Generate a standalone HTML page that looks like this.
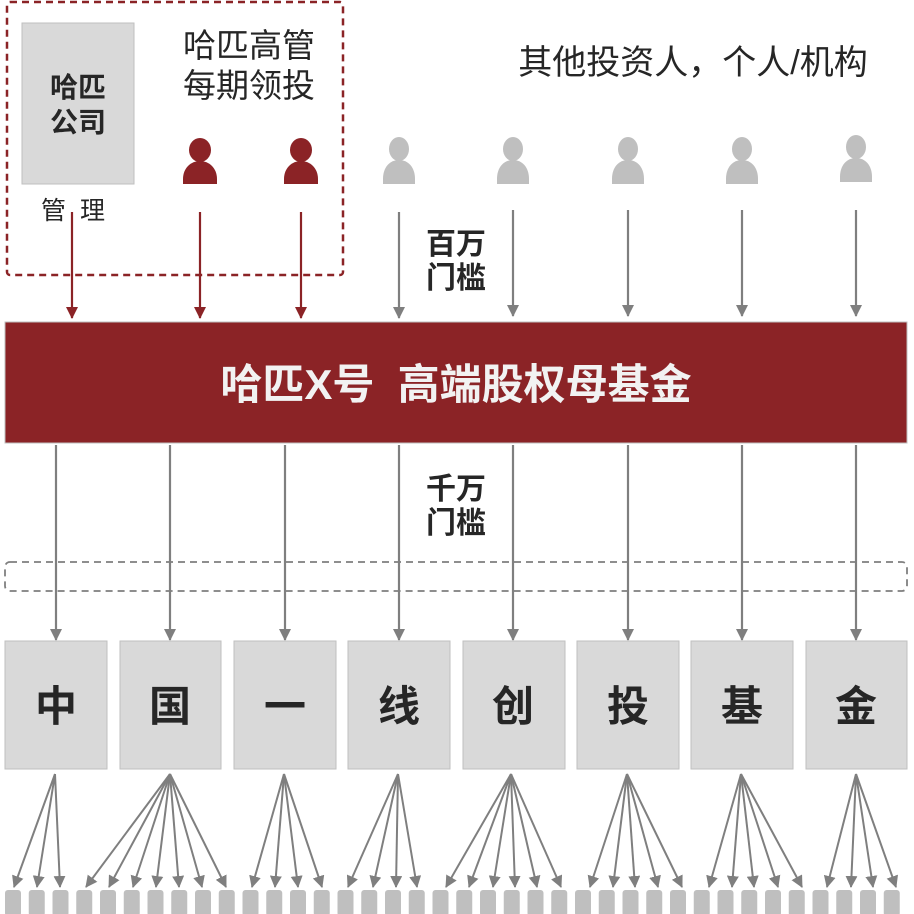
<!DOCTYPE html>
<html><head><meta charset="utf-8"><style>
html,body{margin:0;padding:0;background:#fff}
svg{display:block}
text{font-family:"Liberation Sans","Noto Sans CJK SC",sans-serif}
</style></head><body>
<svg width="914" height="914" viewBox="0 0 914 914" xmlns="http://www.w3.org/2000/svg">
<defs>
<marker id="ag" viewBox="0 0 12 12" refX="11" refY="6" markerWidth="12" markerHeight="12" orient="auto" markerUnits="userSpaceOnUse"><path d="M0,0 L12,6 L0,12 z" fill="#7f7f7f"/></marker>
<marker id="ar" viewBox="0 0 12 12" refX="11" refY="6" markerWidth="12" markerHeight="12" orient="auto" markerUnits="userSpaceOnUse"><path d="M0,0 L12,6 L0,12 z" fill="#8b2326"/></marker>
<g id="pg"><ellipse cx="0" cy="0" rx="10" ry="12" fill="#bfbfbf"/><path d="M-16,35 L-16,30 C-16,18 -9,11 0,11 C9,11 16,18 16,30 L16,35 z" fill="#bfbfbf"/></g>
<g id="pr"><ellipse cx="0" cy="0" rx="11" ry="12" fill="#8b2326"/><path d="M-17,34 L-17,29 C-17,18 -9,11 0,11 C9,11 17,18 17,29 L17,34 z" fill="#8b2326"/></g>
</defs>

<rect x="7" y="2" width="336" height="273" rx="3" fill="none" stroke="#8b2326" stroke-width="2.5" stroke-dasharray="7,5"/>
<rect x="22" y="23" width="112" height="161" fill="#d9d9d9" stroke="#bfbfbf" stroke-width="1"/>
<text x="78" y="97" font-size="28" font-weight="bold" fill="#262626" text-anchor="middle">哈匹</text>
<text x="78" y="132" font-size="28" font-weight="bold" fill="#262626" text-anchor="middle">公司</text>
<text x="41" y="219" font-size="25" fill="#262626">管</text>
<text x="80" y="219" font-size="25" fill="#262626">理</text>
<text x="249" y="57" font-size="33" fill="#262626" text-anchor="middle">哈匹高管</text>
<text x="249" y="97" font-size="33" fill="#262626" text-anchor="middle">每期领投</text>
<text x="693" y="74" font-size="34" fill="#262626" text-anchor="middle">其他投资人，个人/机构</text>

<use href="#pr" x="200" y="150"/>
<use href="#pr" x="301" y="150"/>
<use href="#pg" x="399" y="149"/>
<use href="#pg" x="513" y="149"/>
<use href="#pg" x="628" y="149"/>
<use href="#pg" x="742" y="149"/>
<use href="#pg" x="856" y="147"/>

<g stroke="#8b2326" stroke-width="2.2" fill="none">
<line x1="72" y1="212" x2="72" y2="318" marker-end="url(#ar)"/>
<line x1="200" y1="212" x2="200" y2="318" marker-end="url(#ar)"/>
<line x1="301" y1="212" x2="301" y2="318" marker-end="url(#ar)"/>
</g>
<g stroke="#7f7f7f" stroke-width="2.2" fill="none">
<line x1="399" y1="212" x2="399" y2="318" marker-end="url(#ag)"/>
<line x1="513" y1="210" x2="513" y2="316" marker-end="url(#ag)"/>
<line x1="628" y1="210" x2="628" y2="316" marker-end="url(#ag)"/>
<line x1="742" y1="210" x2="742" y2="316" marker-end="url(#ag)"/>
<line x1="856" y1="210" x2="856" y2="316" marker-end="url(#ag)"/>
</g>
<text x="456" y="254" font-size="30" font-weight="bold" fill="#262626" text-anchor="middle">百万</text>
<text x="456" y="288" font-size="30" font-weight="bold" fill="#262626" text-anchor="middle">门槛</text>

<rect x="5" y="322" width="902" height="121" fill="#8b2326" stroke="#bfbfbf" stroke-width="1"/>
<text x="456" y="399" font-size="42" font-weight="bold" fill="#f2f2f2" text-anchor="middle" xml:space="preserve">哈匹X号  高端股权母基金</text>

<rect x="5" y="562" width="902" height="29" rx="5" fill="none" stroke="#7f7f7f" stroke-width="1.8" stroke-dasharray="7,5"/>

<g stroke="#7f7f7f" stroke-width="2.2" fill="none">
<line x1="56" y1="445" x2="56" y2="640" marker-end="url(#ag)"/>
<line x1="170" y1="445" x2="170" y2="640" marker-end="url(#ag)"/>
<line x1="285" y1="445" x2="285" y2="640" marker-end="url(#ag)"/>
<line x1="399" y1="445" x2="399" y2="640" marker-end="url(#ag)"/>
<line x1="513" y1="445" x2="513" y2="640" marker-end="url(#ag)"/>
<line x1="628" y1="445" x2="628" y2="640" marker-end="url(#ag)"/>
<line x1="742" y1="445" x2="742" y2="640" marker-end="url(#ag)"/>
<line x1="856" y1="445" x2="856" y2="640" marker-end="url(#ag)"/>
</g>
<text x="456" y="499" font-size="30" font-weight="bold" fill="#262626" text-anchor="middle">千万</text>
<text x="456" y="533" font-size="30" font-weight="bold" fill="#262626" text-anchor="middle">门槛</text>

<g fill="#d9d9d9" stroke="#bfbfbf" stroke-width="1">
<rect x="5" y="641" width="102" height="128"/>
<rect x="120" y="641" width="101" height="128"/>
<rect x="234" y="641" width="102" height="128"/>
<rect x="348" y="641" width="102" height="128"/>
<rect x="463" y="641" width="102" height="128"/>
<rect x="577" y="641" width="102" height="128"/>
<rect x="691" y="641" width="102" height="128"/>
<rect x="806" y="641" width="101" height="128"/>
</g>
<g font-size="42" font-weight="bold" fill="#262626" text-anchor="middle">
<text x="56" y="721">中</text>
<text x="170" y="721">国</text>
<text x="285" y="721">一</text>
<text x="399" y="721">线</text>
<text x="513" y="721">创</text>
<text x="628" y="721">投</text>
<text x="742" y="721">基</text>
<text x="856" y="721">金</text>
</g>

<g fill="#bfbfbf">
<rect x="5" y="890" width="16" height="26" rx="3"/><rect x="28.75" y="890" width="16" height="26" rx="3"/><rect x="52.5" y="890" width="16" height="26" rx="3"/><rect x="76.25" y="890" width="16" height="26" rx="3"/><rect x="100" y="890" width="16" height="26" rx="3"/><rect x="123.75" y="890" width="16" height="26" rx="3"/><rect x="147.5" y="890" width="16" height="26" rx="3"/><rect x="171.25" y="890" width="16" height="26" rx="3"/><rect x="195" y="890" width="16" height="26" rx="3"/><rect x="218.75" y="890" width="16" height="26" rx="3"/><rect x="242.5" y="890" width="16" height="26" rx="3"/><rect x="266.25" y="890" width="16" height="26" rx="3"/><rect x="290" y="890" width="16" height="26" rx="3"/><rect x="313.75" y="890" width="16" height="26" rx="3"/><rect x="337.5" y="890" width="16" height="26" rx="3"/><rect x="361.25" y="890" width="16" height="26" rx="3"/><rect x="385" y="890" width="16" height="26" rx="3"/><rect x="408.75" y="890" width="16" height="26" rx="3"/><rect x="432.5" y="890" width="16" height="26" rx="3"/><rect x="456.25" y="890" width="16" height="26" rx="3"/><rect x="480" y="890" width="16" height="26" rx="3"/><rect x="503.75" y="890" width="16" height="26" rx="3"/><rect x="527.5" y="890" width="16" height="26" rx="3"/><rect x="551.25" y="890" width="16" height="26" rx="3"/><rect x="575" y="890" width="16" height="26" rx="3"/><rect x="598.75" y="890" width="16" height="26" rx="3"/><rect x="622.5" y="890" width="16" height="26" rx="3"/><rect x="646.25" y="890" width="16" height="26" rx="3"/><rect x="670" y="890" width="16" height="26" rx="3"/><rect x="693.75" y="890" width="16" height="26" rx="3"/><rect x="717.5" y="890" width="16" height="26" rx="3"/><rect x="741.25" y="890" width="16" height="26" rx="3"/><rect x="765" y="890" width="16" height="26" rx="3"/><rect x="788.75" y="890" width="16" height="26" rx="3"/><rect x="812.5" y="890" width="16" height="26" rx="3"/><rect x="836.25" y="890" width="16" height="26" rx="3"/><rect x="860" y="890" width="16" height="26" rx="3"/><rect x="883.75" y="890" width="16" height="26" rx="3"/>
</g>

<g stroke="#7f7f7f" stroke-width="2" fill="none">
<line x1="55" y1="774" x2="14" y2="887" marker-end="url(#ag)"/>
<line x1="55" y1="774" x2="37" y2="887" marker-end="url(#ag)"/>
<line x1="55" y1="774" x2="60" y2="887" marker-end="url(#ag)"/>

<line x1="170" y1="774" x2="86" y2="887" marker-end="url(#ag)"/>
<line x1="170" y1="774" x2="109" y2="887" marker-end="url(#ag)"/>
<line x1="170" y1="774" x2="133" y2="887" marker-end="url(#ag)"/>
<line x1="170" y1="774" x2="156" y2="887" marker-end="url(#ag)"/>
<line x1="170" y1="774" x2="179" y2="887" marker-end="url(#ag)"/>
<line x1="170" y1="774" x2="202" y2="887" marker-end="url(#ag)"/>
<line x1="170" y1="774" x2="226" y2="887" marker-end="url(#ag)"/>

<line x1="284" y1="774" x2="252" y2="887" marker-end="url(#ag)"/>
<line x1="284" y1="774" x2="275" y2="887" marker-end="url(#ag)"/>
<line x1="284" y1="774" x2="298" y2="887" marker-end="url(#ag)"/>
<line x1="284" y1="774" x2="322" y2="887" marker-end="url(#ag)"/>

<line x1="398" y1="774" x2="348" y2="887" marker-end="url(#ag)"/>
<line x1="398" y1="774" x2="373" y2="887" marker-end="url(#ag)"/>
<line x1="398" y1="774" x2="396" y2="887" marker-end="url(#ag)"/>
<line x1="398" y1="774" x2="417" y2="887" marker-end="url(#ag)"/>

<line x1="511" y1="774" x2="446" y2="887" marker-end="url(#ag)"/>
<line x1="511" y1="774" x2="469" y2="887" marker-end="url(#ag)"/>
<line x1="511" y1="774" x2="493" y2="887" marker-end="url(#ag)"/>
<line x1="511" y1="774" x2="515" y2="887" marker-end="url(#ag)"/>
<line x1="511" y1="774" x2="537" y2="887" marker-end="url(#ag)"/>
<line x1="511" y1="774" x2="561" y2="887" marker-end="url(#ag)"/>

<line x1="627" y1="774" x2="590" y2="887" marker-end="url(#ag)"/>
<line x1="627" y1="774" x2="613" y2="887" marker-end="url(#ag)"/>
<line x1="627" y1="774" x2="635" y2="887" marker-end="url(#ag)"/>
<line x1="627" y1="774" x2="658" y2="887" marker-end="url(#ag)"/>
<line x1="627" y1="774" x2="682" y2="887" marker-end="url(#ag)"/>

<line x1="741" y1="774" x2="709" y2="887" marker-end="url(#ag)"/>
<line x1="741" y1="774" x2="732" y2="887" marker-end="url(#ag)"/>
<line x1="741" y1="774" x2="754" y2="887" marker-end="url(#ag)"/>
<line x1="741" y1="774" x2="778" y2="887" marker-end="url(#ag)"/>
<line x1="741" y1="774" x2="802" y2="887" marker-end="url(#ag)"/>

<line x1="856" y1="774" x2="827" y2="887" marker-end="url(#ag)"/>
<line x1="856" y1="774" x2="851" y2="887" marker-end="url(#ag)"/>
<line x1="856" y1="774" x2="873" y2="887" marker-end="url(#ag)"/>
<line x1="856" y1="774" x2="896" y2="887" marker-end="url(#ag)"/>
</g>
</svg>
</body></html>
